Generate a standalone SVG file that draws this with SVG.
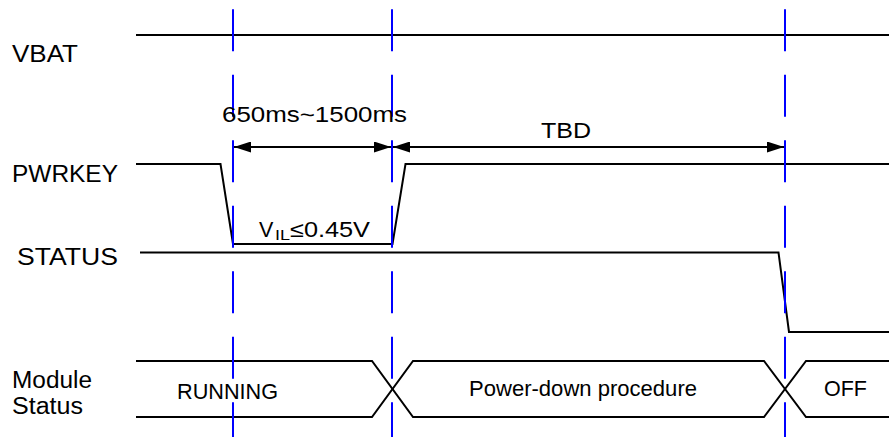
<svg xmlns="http://www.w3.org/2000/svg" width="889" height="437" viewBox="0 0 889 437">
<style>
.sig{fill:none;stroke:#000;stroke-width:2;stroke-linejoin:miter}
.guide{stroke:#0000ff;stroke-width:2;stroke-dasharray:42 23.5}
.dim{stroke:#000;stroke-width:2;fill:none}
text{font-family:"Liberation Sans",Arial,sans-serif;fill:#000}
.lbl{font-size:23px}
.val{font-size:21.5px}
</style>
<defs>
<marker id="ah" viewBox="0 0 17 11" refX="17" refY="5.5" markerWidth="17" markerHeight="11" markerUnits="userSpaceOnUse" orient="auto-start-reverse">
<path d="M0,0 L17,5.5 L0,11 Z" fill="#000"/>
</marker>
</defs>
<rect width="889" height="437" fill="#fff"/>
<g id="vbat">
<text class="lbl" x="12" y="62" textLength="66" lengthAdjust="spacingAndGlyphs">VBAT</text>
<path class="sig" d="M136,35 H889"/>
</g>
<g id="pwrkey">
<text class="lbl" x="12" y="182" textLength="106" lengthAdjust="spacingAndGlyphs">PWRKEY</text>
<path class="sig" d="M136,164 H220.5 L233,244 H392.5 L405.5,164 H889"/>
<text class="val" x="259" y="237" font-size="22">V</text>
<text x="275" y="240" font-size="14" textLength="15" lengthAdjust="spacingAndGlyphs">IL</text>
<text class="val" x="290" y="237" font-size="22" textLength="80" lengthAdjust="spacingAndGlyphs">≤0.45V</text>
</g>
<g id="status">
<text class="lbl" x="17" y="265" textLength="101" lengthAdjust="spacingAndGlyphs">STATUS</text>
<path class="sig" d="M140,252.5 H778.5 L789,332 H889"/>
</g>
<g id="module-status">
<text class="lbl" x="12" y="388" textLength="80" lengthAdjust="spacingAndGlyphs">Module</text>
<text class="lbl" x="12" y="414" textLength="71" lengthAdjust="spacingAndGlyphs">Status</text>
<path class="sig" d="M136,361 H372 L413,417 H764 L806,361 H889"/>
<path class="sig" d="M136,417 H372 L413,361 H764 L806,417 H889"/>
<text class="val" x="177" y="399" textLength="101" lengthAdjust="spacingAndGlyphs">RUNNING</text>
<text class="val" x="469" y="396" textLength="228" lengthAdjust="spacingAndGlyphs">Power-down procedure</text>
<text class="val" x="824" y="396" textLength="43" lengthAdjust="spacingAndGlyphs">OFF</text>
</g>
<g id="connectors">
<line class="guide" x1="233" y1="9.3" x2="233" y2="437"/>
<line class="guide" x1="392" y1="9.3" x2="392" y2="437"/>
<line class="guide" x1="785" y1="9.3" x2="785" y2="437"/>
<line class="dim" x1="234" y1="147" x2="391" y2="147" marker-start="url(#ah)" marker-end="url(#ah)"/>
<line class="dim" x1="393" y1="147" x2="784" y2="147" marker-start="url(#ah)" marker-end="url(#ah)"/>
<text class="val" x="222" y="122" font-size="22" textLength="185" lengthAdjust="spacingAndGlyphs">650ms~1500ms</text>
<text class="val" x="541" y="138" font-size="22" textLength="50" lengthAdjust="spacingAndGlyphs">TBD</text>
</g>
</svg>
